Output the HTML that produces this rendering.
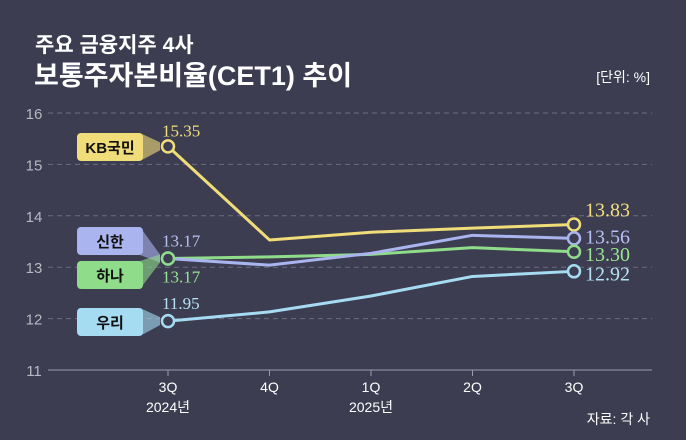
<!DOCTYPE html>
<html><head><meta charset="utf-8"><style>
body{margin:0;background:#3c3d51;}
svg{display:block}
text{font-family:"Liberation Sans","Noto Sans CJK KR",sans-serif}
.num{font-family:"Liberation Serif","Noto Serif CJK SC",serif}
</style></head><body>
<svg id="c" width="686" height="440" viewBox="0 0 686 440">
<rect width="686" height="440" fill="#3c3d51"/>
<text x="35" y="52" fill="#fff" font-size="21" font-weight="bold">주요 금융지주 4사</text>
<text x="34" y="85" fill="#fff" font-size="27" font-weight="bold">보통주자본비율(CET1) 추이</text>
<text x="650" y="82" fill="#fff" font-size="14" text-anchor="end">[단위: %]</text>
<text x="650" y="424" fill="#fff" font-size="14" text-anchor="end">자료: 각 사</text>
<g id="grid"></g><g id="lines"></g>
</svg>
<script>
const categories=["3Q","4Q","1Q","2Q","3Q"];
const yearLabels=["2024년","","2025년","",""];
const yTicks=[11,12,13,14,15,16];
const names=["KB국민","신한","하나","우리"];
const kb=[15.35,13.53,13.68,13.76,13.83];
const shinhan=[13.17,13.04,13.27,13.62,13.56];
const hana=[13.17,13.20,13.25,13.38,13.30];
const woori=[11.95,12.13,12.44,12.82,12.92];
const series=[kb,shinhan,hana,woori];
const colors=["#f0dc78","#aab4ee","#8fdc8a","#a6dcf2"];
const labelColors=["#f3df7c","#b7c0f3","#99e492","#b5e3f5"];
const NS="http://www.w3.org/2000/svg";
const x=i=>168+i*101.5;
const y=v=>370-(v-11)*51.4;
const svg=document.getElementById('c'),grid=document.getElementById('grid'),lines=document.getElementById('lines');
function mk(tag,attrs,parent){const e=document.createElementNS(NS,tag);for(const k in attrs)e.setAttribute(k,attrs[k]);parent.appendChild(e);return e;}
yTicks.forEach(t=>{
 const l=mk('line',{x1:48,x2:652,y1:y(t),y2:y(t),stroke:t==11?'#9a9aa8':'#6c6d7e','stroke-dasharray':t==11?'':'5,4','stroke-width':1},grid);
 
 
 const tx=mk('text',{x:34,y:y(t)+6,fill:'#b8b8c2','font-size':15,'text-anchor':'middle'},grid);tx.textContent=t;
 
 
});
categories.forEach((c,i)=>{
 const tk=mk('line',{x1:x(i),x2:x(i),y1:370,y2:376,stroke:'#9a9aa8'},grid);
 
 
 const t=mk('text',{x:x(i),y:392,fill:'#fff','font-size':14,'text-anchor':'middle'},grid);t.textContent=c;
 
 
 if(yearLabels[i]){const t2=mk('text',{x:x(i),y:412,fill:'#fff','font-size':14,'text-anchor':'middle'},grid);t2.textContent=yearLabels[i];
 
 }
});
const tagY=[147,241,275,322];
const startLblOff=[-10,-12,24,-12];
const endLblOff=[-8,5,9,9];
const drawOrder=[3,2,1,0];
drawOrder.forEach(s=>{
 const d=series[s];
 const p=mk('polyline',{points:d.map((v,i)=>x(i)+','+y(v)).join(' '),fill:'none',stroke:colors[s],'stroke-width':3,'stroke-linejoin':'round'},lines);
 
 
});
series.forEach((d,s)=>{
 [0,4].forEach(i=>{
  const c=mk('circle',{cx:x(i),cy:y(d[i]),r:6,fill:'#3c3d51',stroke:colors[s],'stroke-width':2.5},lines);
  
  
 });
 const t1=mk('text',{class:'num',x:x(0)-6,y:y(d[0])+startLblOff[s],fill:labelColors[s],'font-size':17},lines);t1.textContent=d[0].toFixed(2);
 
 
 const t2=mk('text',{class:'num',x:x(4)+11,y:y(d[4])+endLblOff[s],fill:labelColors[s],'font-size':20},lines);t2.textContent=d[4].toFixed(2);
 
 
 const ty=tagY[s];
 const g=mk('g',{},lines);
 
 
 mk('path',{d:`M140 ${ty-14} L160 ${y(d[0])-4} L160 ${y(d[0])+4} L140 ${ty+14} Z`,fill:colors[s],opacity:0.6},g);
 mk('rect',{x:77,y:ty-14,width:66,height:28,rx:4,fill:colors[s]},g);
 const tt=mk('text',{x:110,y:ty+6,fill:'#111','font-size':15,'font-weight':'bold','text-anchor':'middle'},g);tt.textContent=names[s];
});
</script>
</body></html>
